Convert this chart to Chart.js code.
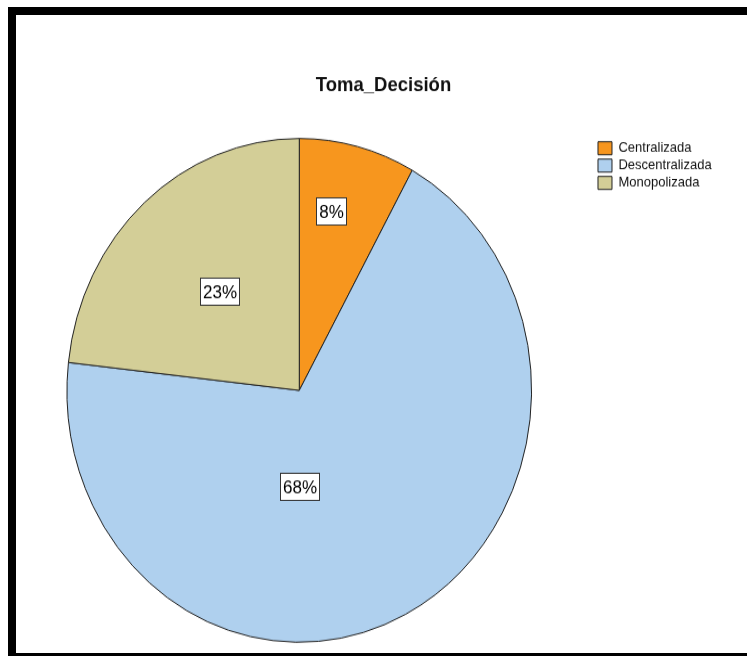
<!DOCTYPE html>
<html>
<head>
<meta charset="utf-8">
<script src="https://cdn.jsdelivr.net/npm/chart.js@4/dist/chart.umd.min.js"></script>
<style>
  html, body { margin: 0; padding: 0; background: #fff; overflow: hidden; }
  #wrap { position: absolute; left: 0; top: 0; width: 747px; height: 605px;
          transform: scaleY(1.0843); transform-origin: 0 0; }
  #frame { position: absolute; left: 8px; top: 7px; width: 760px; height: 638px;
           border-left: 8px solid #000; border-top: 8px solid #000; border-bottom: 8px solid #000;
           pointer-events: none; }
</style>
</head>
<body>
<div id="wrap"><canvas id="myChart" width="747" height="605"></canvas></div>
<div id="frame"></div>
<script>
// Chart data
var categories = ["Centralizada", "Descentralizada", "Monopolizada"];
var percentages = [8, 68, 23];
var sliceColors = ["#F7961E", "#AFD0EE", "#D3CE97"];

// where each % box sits inside its slice (fraction of the sweep, fraction of the radius)
var labelSpots = [
  { t: 0.37, r: 0.725 },
  { t: 0.61, r: 0.382 },
  { t: 0.51, r: 0.524 },
];

var fontFamily = '"Liberation Sans", Arial, sans-serif';

// white boxes with the percentage in each slice
var pctBoxes = {
  id: "pctBoxes",
  afterDatasetsDraw: function (chart) {
    var ctx = chart.ctx;
    var arcs = chart.getDatasetMeta(0).data;
    ctx.save();
    ctx.font = "17px " + fontFamily;
    ctx.textAlign = "center";
    ctx.textBaseline = "middle";
    arcs.forEach(function (arc, i) {
      var p = arc.getProps(["x", "y", "startAngle", "endAngle", "outerRadius"], true);
      var spot = labelSpots[i];
      var a = p.startAngle + spot.t * (p.endAngle - p.startAngle);
      var r = spot.r * p.outerRadius;
      var cx = p.x + Math.cos(a) * r;
      var cy = p.y + Math.sin(a) * r;
      var txt = percentages[i] + "%";
      var w = Math.round(ctx.measureText(txt).width + 5);
      var h = 25;
      var bx = Math.round(cx - w / 2) + 0.5;
      var by = Math.round(cy - h / 2) + 0.5;
      ctx.fillStyle = "#fff";
      ctx.fillRect(bx, by, w, h);
      ctx.strokeStyle = "#333";
      ctx.lineWidth = 1;
      ctx.strokeRect(bx, by, w, h);
      ctx.fillStyle = "#000";
      ctx.fillText(txt, bx + w / 2, by + h / 2 + 1);
    });
    ctx.restore();
  },
};

var ctx = document.getElementById("myChart").getContext("2d");

var myChart = new Chart(ctx, {
  type: "pie",
  data: {
    labels: categories,
    datasets: [
      {
        data: percentages,
        backgroundColor: sliceColors,
        borderColor: "#222",
        borderWidth: 1,
      },
    ],
  },
  options: {
    responsive: false,
    animation: false,
    events: [],
    layout: { padding: { left: 45.3, right: 25.3, top: 0, bottom: 12.2 } },
    scales: {
      // empty axis only used as a spacer between the pie and the legend
      gap: {
        type: "linear",
        position: "right",
        display: true,
        grid: { display: false, drawTicks: false },
        border: { display: false },
        ticks: { display: false },
        afterFit: function (scale) {
          scale.width = 41.7;
        },
      },
    },
    plugins: {
      title: {
        display: true,
        text: "Toma_Decisión",
        color: "#111",
        font: { family: fontFamily, size: 18.5, weight: "bold" },
        padding: { top: 67.8, bottom: 37.2 },
      },
      legend: {
        display: true,
        position: "right",
        align: "start",
        fullSize: false,
        labels: {
          boxWidth: 14,
          boxHeight: 12,
          padding: 3,
          color: "#111",
          font: { family: fontFamily, size: 13 },
        },
      },
      tooltip: { enabled: false },
    },
  },
  plugins: [pctBoxes],
});
</script>
</body>
</html>
